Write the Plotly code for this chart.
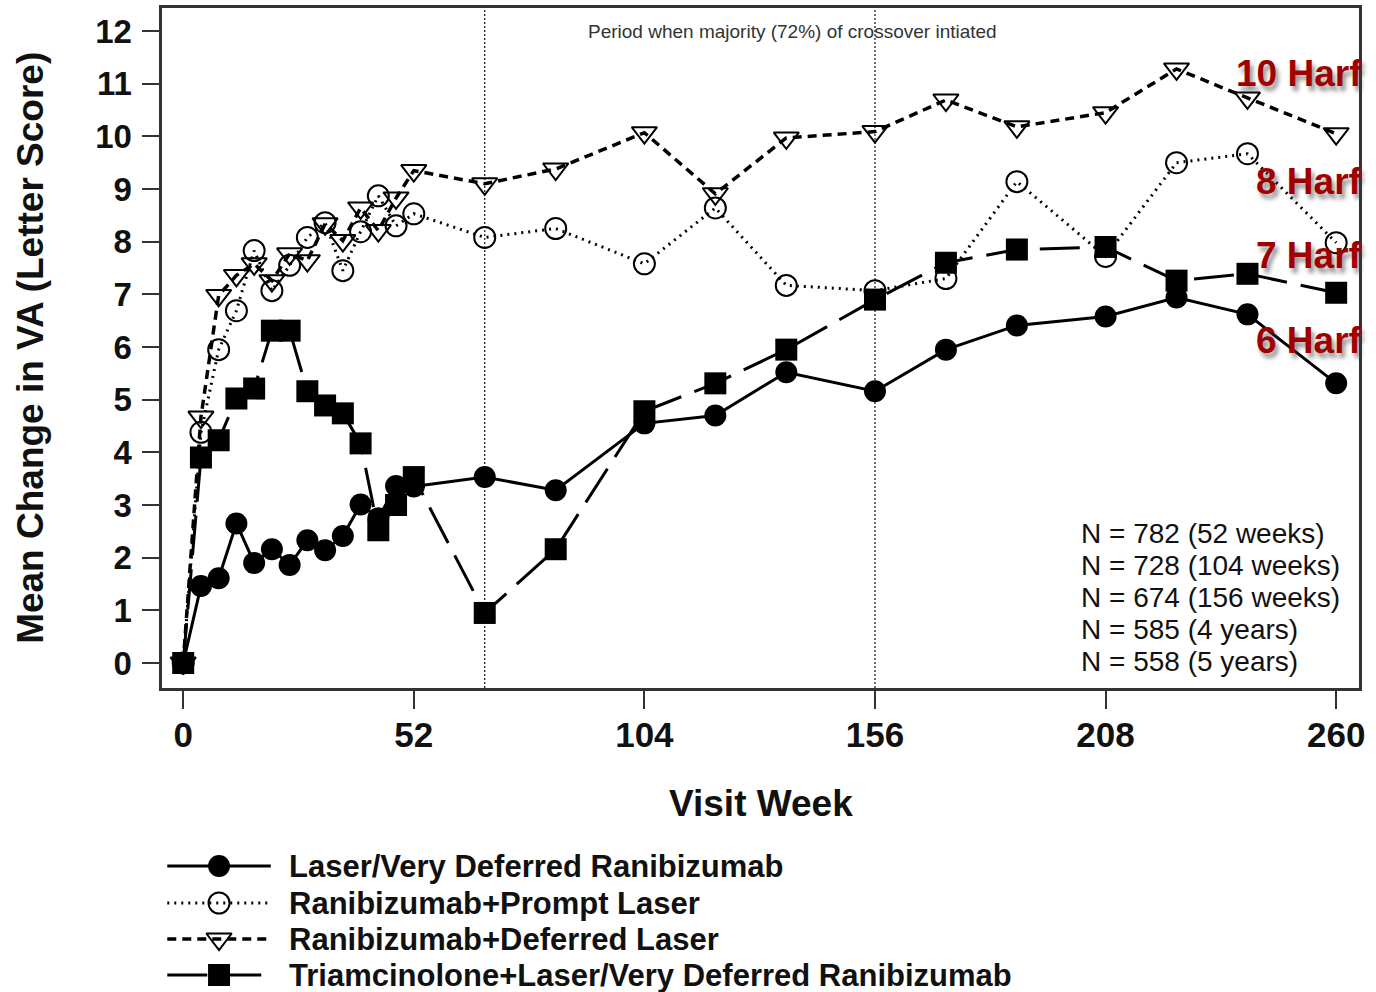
import plotly.graph_objects as go

# Visit weeks and mean change in visual acuity (letters) per treatment group
weeks = [0, 4, 8, 12, 16, 20, 24, 28, 32, 36, 40, 44, 48, 52,
         68, 84, 104, 120, 136, 156, 172, 188, 208, 224, 240, 260]

laser_very_deferred = [0, 1.46, 1.61, 2.65, 1.90, 2.16, 1.86, 2.33, 2.14, 2.41, 3.01, 2.75, 3.36, 3.35,
                       3.53, 3.28, 4.55, 4.70, 5.52, 5.16, 5.95, 6.41, 6.58, 6.94, 6.62, 5.31]
rbz_prompt_laser = [0, 4.38, 5.95, 6.69, 7.83, 7.07, 7.55, 8.08, 8.36, 7.45, 8.19, 8.87, 8.30, 8.53,
                    8.08, 8.25, 7.58, 8.64, 7.17, 7.07, 7.30, 9.14, 7.72, 9.50, 9.67, 7.98]
rbz_deferred_laser = [0, 4.67, 6.98, 7.36, 7.58, 7.26, 7.77, 7.64, 8.34, 8.02, 8.64, 8.21, 8.83, 9.35,
                      9.10, 9.38, 10.07, 8.91, 9.97, 10.09, 10.69, 10.18, 10.45, 11.28, 10.73, 10.05]
triam_laser = [0, 3.90, 4.23, 5.02, 5.21, 6.31, 6.31, 5.16, 4.89, 4.74, 4.17, 2.52, 3.00, 3.53,
               0.95, 2.16, 4.78, 5.31, 5.95, 6.90, 7.60, 7.85, 7.90, 7.26, 7.39, 7.03]

series_names = ["Laser/Very Deferred Ranibizumab", "Ranibizumab+Prompt Laser",
                "Ranibizumab+Deferred Laser", "Triamcinolone+Laser/Very Deferred Ranibizumab"]

x_ticks = [0, 52, 104, 156, 208, 260]
y_ticks = list(range(0, 13))
crossover_weeks = [68, 156]

sample_sizes = ["N = 782 (52 weeks)", "N = 728 (104 weeks)", "N = 674 (156 weeks)",
                "N = 585 (4 years)", "N = 558 (5 years)"]
harf_labels = ["10 Harf", "8 Harf", "7 Harf", "6 Harf"]

# ---- layout geometry (pixels) ----
W, H = 1376, 992
PX0, PX1, PY0, PY1 = 163, 1365, 8, 688
FONT = "Liberation Sans"
AX = "#333333"

styles = [
    dict(line=dict(color="black", width=3, dash="solid"),
         marker=dict(symbol="circle", size=22, color="black")),
    dict(line=dict(color="black", width=3, dash="2px,5px"),
         marker=dict(symbol="circle-open", size=21, color="black", line=dict(width=2))),
    dict(line=dict(color="black", width=3.5, dash="9px,6px"),
         marker=dict(symbol="triangle-down-open", size=22, color="black", line=dict(width=2))),
    dict(line=dict(color="black", width=3, dash="40px,14px"),
         marker=dict(symbol="square", size=22, color="black")),
]

fig = go.Figure()
for name, vals, st in zip(series_names,
                          [laser_very_deferred, rbz_prompt_laser, rbz_deferred_laser, triam_laser],
                          styles):
    fig.add_trace(go.Scatter(x=weeks, y=vals, name=name, mode="lines+markers",
                             line=st["line"], marker=st["marker"], xaxis="x", yaxis="y",
                             hoverinfo="x+y+name"))

# custom legend drawn on a hidden full-figure pixel axis
legend_rows = [866, 903, 939, 975]
for name, row, st in zip(series_names, legend_rows, styles):
    fig.add_trace(go.Scatter(x=[168, 272], y=[row, row], mode="lines", line=st["line"],
                             xaxis="x2", yaxis="y2", hoverinfo="skip"))
    fig.add_trace(go.Scatter(x=[220], y=[row], mode="markers", marker=st["marker"],
                             xaxis="x2", yaxis="y2", hoverinfo="skip"))

annotations = []
for name, row in zip(series_names, legend_rows):
    annotations.append(dict(x=288 / W, y=1 - row / H, xref="paper", yref="paper",
                            xanchor="left", yanchor="middle", showarrow=False, text=name,
                            font=dict(family=FONT, size=31, color="#111", weight="bold")))

# sample sizes box
for i, txt in enumerate(sample_sizes):
    annotations.append(dict(x=1084 / W, y=1 - (533 + 32 * i) / H, xref="paper", yref="paper",
                            xanchor="left", yanchor="middle", showarrow=False, text=txt,
                            font=dict(family=FONT, size=28, color="#111")))

# red callouts
for txt, yc in zip(harf_labels, [73, 181, 255, 340]):
    annotations.append(dict(x=1370 / W, y=1 - yc / H, xref="paper", yref="paper",
                            xanchor="right", yanchor="middle", showarrow=False, text=txt,
                            font=dict(family=FONT, size=37, color="#a00000", weight="bold",
                                      shadow="3px 5px 4px rgba(60,60,60,0.55)")))

annotations.append(dict(x=796 / W, y=1 - 31 / H, xref="paper", yref="paper",
                        xanchor="center", yanchor="middle", showarrow=False,
                        text="Period when majority (72%) of crossover intiated",
                        font=dict(family=FONT, size=19, color="#333")))

# axis titles
annotations.append(dict(x=764 / W, y=1 - 803 / H, xref="paper", yref="paper",
                        xanchor="center", yanchor="middle", showarrow=False, text="Visit Week",
                        font=dict(family=FONT, size=37, color="#111", weight="bold")))
annotations.append(dict(x=30 / W, y=1 - 348 / H, xref="paper", yref="paper",
                        xanchor="center", yanchor="middle", showarrow=False, textangle=-90,
                        text="Mean Change in VA (Letter Score)",
                        font=dict(family=FONT, size=37, color="#111", weight="bold")))

shapes = [dict(type="line", xref="x", yref="y domain", x0=w, x1=w, y0=0, y1=1,
               line=dict(color="#222", width=1.3, dash="2px,2px"), layer="below")
          for w in crossover_weeks]

fig.update_layout(
    width=W, height=H, autosize=False,
    margin=dict(l=0, r=0, t=0, b=0),
    paper_bgcolor="white", plot_bgcolor="rgba(0,0,0,0)",
    showlegend=False,
    annotations=annotations,
    shapes=shapes,
    xaxis=dict(domain=[PX0 / W, PX1 / W], range=[-4.715, 265.16], anchor="y",
               tickmode="array", tickvals=x_ticks, ticks="outside", ticklen=18, tickwidth=2,
               tickcolor=AX, showline=True, linecolor=AX, linewidth=2.5, mirror=True,
               showgrid=False, zeroline=False, ticklabelstandoff=-4,
               tickfont=dict(family=FONT, size=35, color="#111", weight="bold")),
    yaxis=dict(domain=[1 - PY1 / H, 1 - PY0 / H], range=[-0.475, 12.437], anchor="x",
               tickmode="array", tickvals=y_ticks, ticks="outside", ticklen=18, tickwidth=2,
               tickcolor=AX, showline=True, linecolor=AX, linewidth=2.5, mirror=True,
               showgrid=False, zeroline=False, ticklabelstandoff=3,
               tickfont=dict(family=FONT, size=33, color="#111", weight="bold")),
    xaxis2=dict(domain=[0, 1], range=[0, W], anchor="y2", visible=False, fixedrange=True),
    yaxis2=dict(domain=[0, 1], range=[H, 0], anchor="x2", visible=False, fixedrange=True),
)

fig.write_html("out.html")
